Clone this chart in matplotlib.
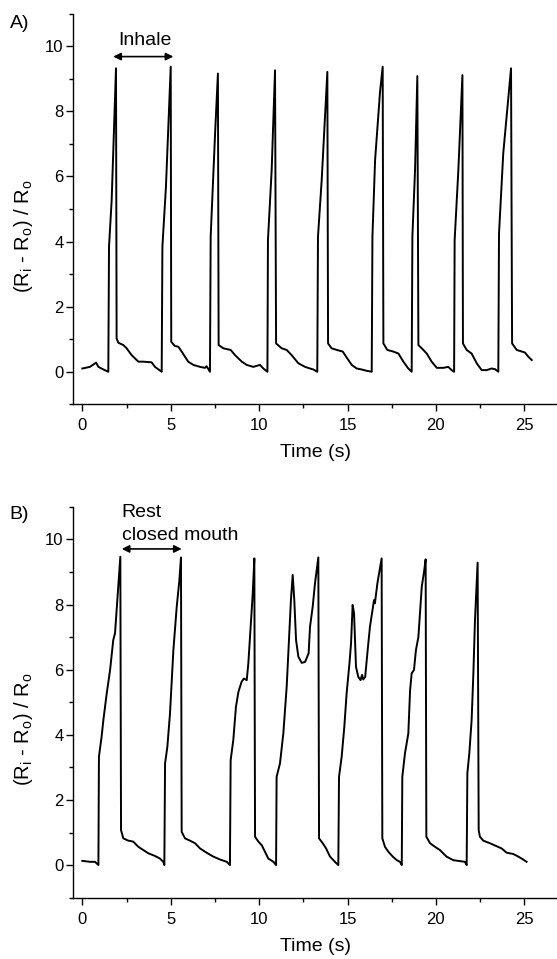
import matplotlib
matplotlib.use("Agg")
import matplotlib.pyplot as plt
from matplotlib.ticker import MultipleLocator

# panel A: normal breathing (inhale cycles)
time_a = [0, 0.43, 0.78, 0.91, 1.19, 1.47,
          1.51, 1.66, 1.905,
          1.94, 2.04, 2.32, 2.51, 2.79, 3.17, 3.45, 3.92, 4.11, 4.49,
          4.53, 4.73, 5.0,
          5.03, 5.24, 5.43, 5.62, 5.99, 6.28, 6.66, 6.94, 7.03, 7.22,
          7.26, 7.51, 7.67,
          7.71, 7.98, 8.39, 8.64, 9.02, 9.3, 9.67, 10.05, 10.24, 10.47,
          10.5, 10.71, 10.9,
          10.96, 11.28, 11.56, 11.84, 12.22, 12.6, 12.88, 13.07, 13.29,
          13.33, 13.54, 13.86,
          13.9, 14.1, 14.39, 14.73, 14.95, 15.24, 15.52, 15.8, 16.08, 16.37,
          16.41, 16.56, 16.84, 16.99,
          17.03, 17.25, 17.59, 17.88, 18.16, 18.44, 18.63,
          18.67, 18.82, 18.95,
          19.01, 19.29, 19.48, 19.76, 20.05, 20.42, 20.7, 20.89, 21.03,
          21.06, 21.27, 21.5,
          21.53, 21.74, 22.02, 22.31, 22.59, 22.87, 23.15, 23.34, 23.53,
          23.57, 23.81, 24.25,
          24.31, 24.57, 25.04, 25.23, 25.42]
signal_a = [0.10, 0.15, 0.28, 0.15, 0.07, 0.0,
            3.84, 5.27, 9.32,
            1.02, 0.89, 0.82, 0.72, 0.51, 0.31, 0.31, 0.29, 0.15, 0.0,
            3.84, 5.68, 9.37,
            0.92, 0.79, 0.77, 0.62, 0.31, 0.21, 0.15, 0.12, 0.17, 0.0,
            4.15, 7.32, 9.16,
            0.82, 0.72, 0.67, 0.51, 0.31, 0.21, 0.15, 0.21, 0.10, 0.0,
            4.04, 6.19, 9.26,
            0.87, 0.72, 0.67, 0.51, 0.26, 0.15, 0.10, 0.07, 0.0,
            4.15, 5.89, 9.21,
            0.87, 0.72, 0.67, 0.62, 0.44, 0.21, 0.10, 0.07, 0.03, 0.0,
            4.15, 6.5, 8.6, 9.37,
            0.87, 0.67, 0.62, 0.56, 0.31, 0.10, 0.0,
            4.15, 6.19, 9.08,
            0.82, 0.67, 0.56, 0.31, 0.12, 0.12, 0.15, 0.05, 0.0,
            4.04, 6.19, 9.11,
            0.87, 0.67, 0.56, 0.26, 0.05, 0.05, 0.10, 0.08, 0.0,
            4.25, 6.71, 9.32,
            0.87, 0.67, 0.59, 0.46, 0.36]

# panel B: rest, closed mouth
time_b = [0, 0.43, 0.72, 0.91,
          0.94, 1.09, 1.19, 1.38, 1.57, 1.75, 1.85, 1.98, 2.15,
          2.19, 2.32, 2.6, 2.88, 3.17, 3.45, 3.74, 4.11, 4.39, 4.58, 4.64,
          4.68, 4.81, 4.96, 5.15, 5.34, 5.49, 5.58,
          5.62, 5.81, 6.09, 6.38, 6.66, 7.03, 7.41, 7.79, 8.17, 8.35,
          8.39, 8.54, 8.69, 8.83, 9.01, 9.14, 9.30, 9.39, 9.52, 9.64, 9.73,
          9.77, 9.96, 10.15, 10.33, 10.52, 10.81, 10.96,
          10.99, 11.18, 11.37, 11.56, 11.71, 11.80, 11.9,
          11.99, 12.09, 12.22, 12.41, 12.6, 12.8, 12.88, 13.03, 13.16, 13.35,
          13.39, 13.6, 13.79, 14.01, 14.29, 14.48,
          14.52, 14.67, 14.82, 14.95, 15.11, 15.2, 15.29, 15.37, 15.48, 15.61,
          15.74, 15.82, 15.89, 16.0, 16.14, 16.27, 16.5, 16.55, 16.69, 16.93,
          16.97, 17.12, 17.31, 17.56, 17.79, 17.97, 18.07,
          18.1, 18.25, 18.44, 18.54, 18.63, 18.76, 18.87, 19.01, 19.2, 19.33, 19.42,
          19.46, 19.67, 19.95, 20.23, 20.6, 20.98, 21.36, 21.64, 21.74,
          21.78, 21.89, 22.02, 22.12, 22.21, 22.36,
          22.42, 22.49, 22.68, 23.06, 23.44, 23.72, 24.0, 24.38, 24.66, 24.85, 25.13]
signal_b = [0.13, 0.10, 0.10, 0.0,
            3.33, 3.94, 4.45, 5.27, 5.99, 6.91, 7.12, 8.14, 9.47,
            1.07, 0.82, 0.75, 0.72, 0.56, 0.46, 0.36, 0.28, 0.20, 0.10, 0.0,
            3.12, 3.63, 4.66, 6.6, 7.93, 8.75, 9.45,
            1.02, 0.82, 0.75, 0.67, 0.51, 0.38, 0.26, 0.17, 0.10, 0.0,
            3.22, 3.84, 4.86, 5.32, 5.63, 5.73, 5.68, 6.19, 7.32, 8.34, 9.42,
            0.87, 0.72, 0.61, 0.41, 0.20, 0.10, 0.0,
            2.71, 3.12, 4.04, 5.48, 7.12, 8.14, 8.91,
            8.14, 6.91, 6.40, 6.21, 6.24, 6.5, 7.32, 7.93, 8.65, 9.45,
            0.82, 0.67, 0.51, 0.26, 0.10, 0.0,
            2.71, 3.33, 4.25, 5.27, 6.19, 6.81, 7.99, 7.73, 6.09, 5.78,
            5.68, 5.84, 5.70, 5.78, 6.6, 7.32, 8.14, 8.04, 8.65, 9.42,
            0.82, 0.56, 0.41, 0.26, 0.15, 0.10, 0.0,
            2.71, 3.43, 4.04, 5.37, 5.89, 5.99, 6.6, 7.01, 8.55, 9.01, 9.39,
            0.87, 0.67, 0.56, 0.46, 0.26, 0.15, 0.12, 0.10, 0.0,
            2.82, 3.43, 4.45, 5.89, 7.52, 9.29,
            1.07, 0.87, 0.75, 0.67, 0.58, 0.51, 0.38, 0.34, 0.26, 0.20, 0.10]

panel_labels = ["A)", "B)"]
xticks = [0, 5, 10, 15, 20, 25]
yticks = [0, 2, 4, 6, 8, 10]

plt.rcParams["font.family"] = ["Liberation Sans", "DejaVu Sans"]
plt.rcParams["mathtext.default"] = "regular"

fig = plt.figure(figsize=(5.57, 9.59), dpi=100)
ax_a = fig.add_axes([0.1316, 0.5784, 0.8684, 0.4074])
ax_b = fig.add_axes([0.1316, 0.0640, 0.8684, 0.4074])

for ax, t, v, lab, ytxt in [(ax_a, time_a, signal_a, panel_labels[0], 0.9755),
                             (ax_b, time_b, signal_b, panel_labels[1], 0.4635)]:
    ax.plot(t, v, color="black", lw=1.4)
    ax.set_xlim(-0.51, 26.85)
    ax.set_ylim(-1, 11)
    ax.set_xticks(xticks)
    ax.set_yticks(yticks)
    ax.xaxis.set_minor_locator(MultipleLocator(2.5))
    ax.yaxis.set_minor_locator(MultipleLocator(1))
    ax.spines["top"].set_visible(False)
    ax.spines["right"].set_visible(False)
    for s in ("left", "bottom"):
        ax.spines[s].set_linewidth(1.0)
    ax.tick_params(which="major", direction="out", length=5, width=1.0,
                   labelsize=12, pad=2)
    ax.tick_params(which="minor", direction="out", length=3, width=1.0)
    ax.tick_params(axis="x", which="major", pad=5)
    ax.set_xlabel("Time (s)", fontsize=14, labelpad=8)
    ax.set_ylabel("(R$_i$ - R$_o$) / R$_o$", fontsize=14.5)
    ax.yaxis.set_label_coords(-0.08, 0.43)
    fig.text(0.035, ytxt, lab, fontsize=14, ha="center", va="center")

# annotations
ax_a.annotate("", xy=(1.75, 9.68), xytext=(5.15, 9.68),
              arrowprops=dict(arrowstyle="<|-|>", color="black", lw=1.2,
                              mutation_scale=11, shrinkA=0, shrinkB=0))
ax_a.text(3.55, 10.03, "Inhale", fontsize=14, ha="center", va="baseline")

ax_b.annotate("", xy=(2.23, 9.71), xytext=(5.62, 9.71),
              arrowprops=dict(arrowstyle="<|-|>", color="black", lw=1.2,
                              mutation_scale=11, shrinkA=0, shrinkB=0))
ax_b.text(2.23, 10.69, "Rest", fontsize=14, ha="left", va="baseline")
ax_b.text(2.23, 9.97, "closed mouth", fontsize=14, ha="left", va="baseline")

fig.savefig("out.png", dpi=100)
